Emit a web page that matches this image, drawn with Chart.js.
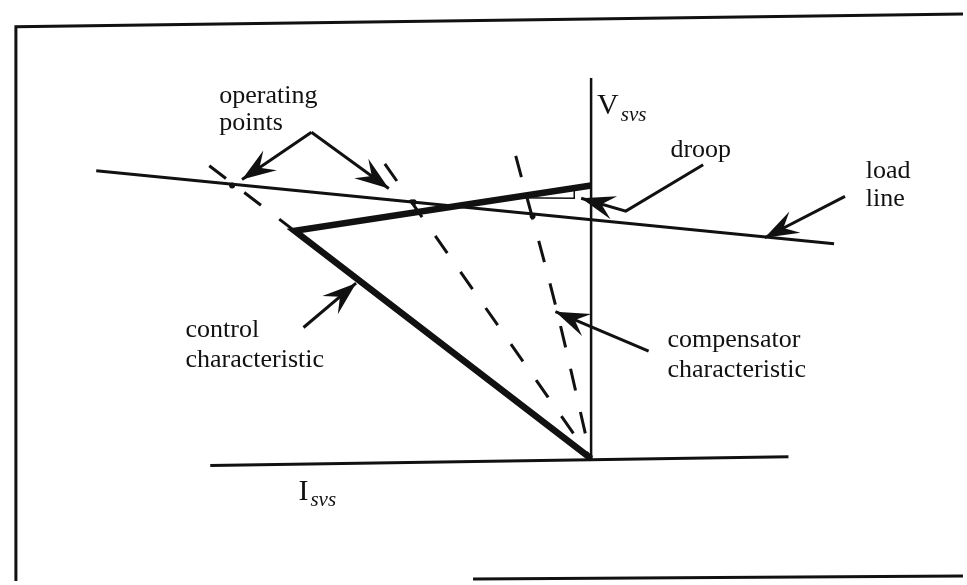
<!DOCTYPE html>
<html><head><meta charset="utf-8">
<script src="https://cdn.jsdelivr.net/npm/chart.js@4/dist/chart.umd.min.js"></script>
<style>html,body{margin:0;padding:0;background:#fff;overflow:hidden}canvas{display:block}</style>
</head><body>
<canvas id="c" width="967" height="585"></canvas>
<script>
// Diagram data in (I, V) units, origin at the axes intersection
const vAxis = [{x:0,y:3.86},{x:0,y:0}];
const iAxis = [{x:-3.84,y:-0.07},{x:1.99,y:0.02}];
const loadLine = [{x:-4.99,y:2.92},{x:2.45,y:2.18}];
const controlChar = [{x:0,y:2.77},{x:-2.99,y:2.31},{x:0,y:0}];
const controlExt = [{x:-3.85,y:2.97},{x:-2.99,y:2.31}];
const compMid = [{x:-2.08,y:2.99},{x:0,y:0}];
const compChar = [{x:-0.76,y:3.07},{x:-0.36,y:1.56},{x:0,y:0}];
const droopTri = [{x:-0.80,y:2.645},{x:-0.17,y:2.64},{x:-0.17,y:2.744}];
const opPoints = [{x:-3.62,y:2.77},{x:-1.79,y:2.60},{x:-0.59,y:2.46}];
const arrowOpA = [{x:-2.82,y:3.31},{x:-3.52,y:2.83}];
const arrowOpB = [{x:-2.82,y:3.31},{x:-2.04,y:2.74}];
const arrowDroop = [{x:1.13,y:2.98},{x:0.35,y:2.51},{x:-0.10,y:2.64}];
const arrowLoad = [{x:2.56,y:2.66},{x:1.75,y:2.24}];
const arrowControl = [{x:-2.90,y:1.33},{x:-2.37,y:1.78}];
const arrowComp = [{x:0.58,y:1.09},{x:-0.36,y:1.49}];
const frameLeftTop = [{x:-5.80,y:-1.30},{x:-5.80,y:4.38},{x:3.80,y:4.51}];
const frameBottom = [{x:-1.19,y:-1.22},{x:3.80,y:-1.19}];
const labels = ["operating","points","droop","load","line","control","characteristic","compensator","characteristic"];
const labelAt = [[-3.75,3.61],[-3.75,3.33],[0.80,3.06],[2.77,2.85],[2.77,2.56],[-4.09,1.23],[-4.09,0.93],[0.77,1.13],[0.77,0.83]];

const INK = '#111';
function line(data, w, extra) {
  return Object.assign({data, showLine:true, borderColor:INK, borderWidth:w, pointRadius:0, fill:false, tension:0, borderCapStyle:'butt'}, extra||{});
}
const arrows = [arrowOpA, arrowOpB, arrowDroop, arrowLoad, arrowControl, arrowComp];

const overlay = {
  id:'overlay',
  afterDatasetsDraw(chart){
    const ctx = chart.ctx, xs = chart.scales.x, ys = chart.scales.y;
    const P = p => [xs.getPixelForValue(p.x), ys.getPixelForValue(p.y)];
    ctx.save();
    ctx.fillStyle = INK;
    arrows.forEach(a => {
      const [tx,ty] = P(a[a.length-1]), [fx,fy] = P(a[a.length-2]);
      const d = Math.hypot(tx-fx, ty-fy), ux=(fx-tx)/d, uy=(fy-ty)/d, px=-uy, py=ux;
      const L=34, W=12;
      ctx.beginPath();
      ctx.moveTo(tx,ty);
      ctx.lineTo(tx+ux*L+px*W, ty+uy*L+py*W);
      ctx.lineTo(tx+ux*L*0.62, ty+uy*L*0.62);
      ctx.lineTo(tx+ux*L-px*W, ty+uy*L-py*W);
      ctx.closePath();
      ctx.fill();
    });
    ctx.textBaseline='alphabetic'; ctx.textAlign='left';
    ctx.font = '26px "Liberation Serif", "DejaVu Serif", serif';
    labels.forEach((t,i) => {
      const [x,y] = P({x:labelAt[i][0], y:labelAt[i][1]});
      ctx.fillText(t, x, y);
    });
    // axis names
    let [x,y] = P({x:0.06,y:3.49});
    ctx.font = '30px "Liberation Serif", serif'; ctx.fillText('V', x, y);
    [x,y] = P({x:0.30,y:3.42});
    ctx.font = 'italic 21px "Liberation Serif", serif'; ctx.fillText('svs', x, y);
    [x,y] = P({x:-2.95,y:-0.42});
    ctx.font = '30px "Liberation Serif", serif'; ctx.fillText('I', x, y);
    [x,y] = P({x:-2.83,y:-0.48});
    ctx.font = 'italic 21px "Liberation Serif", serif'; ctx.fillText('svs', x, y);
    ctx.restore();
  }
};

new Chart(document.getElementById('c'), {
  type:'scatter',
  data:{datasets:[
    line(frameLeftTop, 3),
    line(frameBottom, 3),
    line(vAxis, 2.5),
    line(iAxis, 3),
    line(loadLine, 3),
    line(controlExt, 3, {borderDash:[21,23]}),
    line(compMid, 3, {borderDash:[21,23]}),
    line(compChar, 3, {borderDash:[22,22], tension:0.3}),
    line(controlChar, 6.5, {borderJoinStyle:'miter'}),
    line(droopTri, 1.5),
    line(arrowOpA, 3), line(arrowOpB, 3), line(arrowDroop, 3),
    line(arrowLoad, 3), line(arrowControl, 3), line(arrowComp, 3),
    {data:opPoints, showLine:false, pointRadius:3, pointBackgroundColor:INK, pointBorderWidth:0}
  ]},
  options:{
    responsive:false, animation:false,
    layout:{padding:0},
    plugins:{legend:{display:false}, tooltip:{enabled:false}},
    scales:{
      x:{type:'linear', min:-5.92, max:3.75, display:false},
      y:{type:'linear', min:-1.24, max:4.61, display:false}
    }
  },
  plugins:[overlay]
});
</script>
</body></html>
